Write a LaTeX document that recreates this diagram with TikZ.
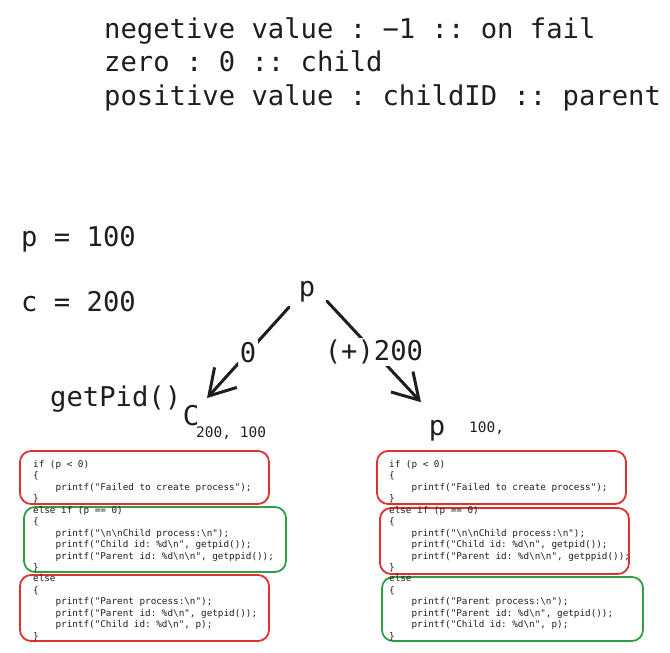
\documentclass[tikz,border=0pt]{standalone}
\usepackage{fontspec}
\setmonofont{DejaVu Sans Mono}
\usetikzlibrary{arrows.meta, positioning}

\definecolor{ink}{HTML}{1E1E1E}
\definecolor{failred}{HTML}{E03131}
\definecolor{okgreen}{HTML}{2F9E44}

\newcommand{\bs}{\textbackslash}
\newcommand{\ind}{\hspace*{22.4pt}}
% the same fork code sits in both columns
\newcommand{\forkcode}{%
if (p < 0)\\
\{\\
\ind printf("Failed to create process");\\
\}\\
else if (p == 0)\\
\{\\
\ind printf("\bs n\bs nChild process:\bs n");\\
\ind printf("Child id: \%d\bs n", getpid());\\
\ind printf("Parent id: \%d\bs n\bs n", getppid());\\
\}\\
else\\
\{\\
\ind printf("Parent process:\bs n");\\
\ind printf("Parent id: \%d\bs n", getpid());\\
\ind printf("Child id: \%d\bs n", p);\\
\}}

\begin{document}
\begin{tikzpicture}[
		  x=1pt, y=-1pt,
		  % Define the style of the large texts
		  bigtext/.style={font=\ttfamily\fontsize{27.2}{33}\selectfont, text=ink, inner sep=0pt},
		  % Define the style of the small subscripts
		  subtext/.style={font=\ttfamily\fontsize{14.5}{17}\selectfont, text=ink, inner sep=0pt},
		  % Define the style of the code listing
		  codetext/.style={font=\ttfamily\fontsize{9.3}{11.47}\selectfont, text=ink, align=left, inner sep=0pt},
		  % Define the style of the fork arrows
		  arrow/.style={-{Straight Barb[length=25pt, width=30pt]}, line width=3pt, draw=ink, line cap=round},
		  % Define the style of the labels on the arrows
		  edgelabel/.style={bigtext, midway, fill=white, inner sep=2pt},
		  % Define the style of the branch boxes
		  failbox/.style={draw=failred, line width=1.8pt, rounded corners=11pt},
		  okbox/.style={draw=okgreen, line width=1.8pt, rounded corners=11pt}
		  ]
		  \useasboundingbox (0,0) rectangle (670,653);

		  % Return values of fork
		  \foreach \txt [count=\i] in {negetive value : −1 :: on fail, zero : 0 :: child, positive value : childID :: parent} {
		    \node[bigtext, anchor=base west] (rule\i) at (104, 4.5+33.5*\i) {\txt};
		  }

		  % Process ids
		  \node[bigtext, anchor=base west] (pid) at (21, 246) {p = 100};
		  \node[bigtext, anchor=base west] (cid) at (21, 311) {c = 200};
		  \node[bigtext, anchor=base west] (getpid) at (50, 406) {getPid()};

		  % Fork tree
		  \node[bigtext, anchor=base] (parent) at (307, 296) {p};
		  \node[bigtext, anchor=base] (child) at (191, 425) {C};
		  \node[subtext, anchor=base west] (childsub) at (196, 437) {200, 100};
		  \node[bigtext, anchor=base] (parent2) at (437, 435) {p};
		  \node[subtext, anchor=base west] (parent2sub) at (469, 432) {100,};

		  \draw[arrow] ([shift={(-18,16)}]parent.center) -- ([shift={(16,-17)}]child.center) node[edgelabel] {0};
		  \draw[arrow] ([shift={(20,10)}]parent.center) -- ([shift={(-16,-28)}]parent2.center) node[edgelabel] {(+)200};

		  % Branch boxes
		  \draw[failbox] (20,451) rectangle (269,504);
		  \draw[okbox] (24,507) rectangle (286,572);
		  \draw[failbox] (20,575) rectangle (269,641);
		  \draw[failbox] (377,451) rectangle (626,504);
		  \draw[failbox] (380,508) rectangle (629,574);
		  \draw[okbox] (382,577) rectangle (643,641);

		  % Code of both processes
		  \node[codetext, anchor=north west] (childcode) at (33, 460) {\forkcode};
		  \node[codetext, anchor=north west] (parentcode) at (389, 460) {\forkcode};
    \end{tikzpicture}
\end{document}
